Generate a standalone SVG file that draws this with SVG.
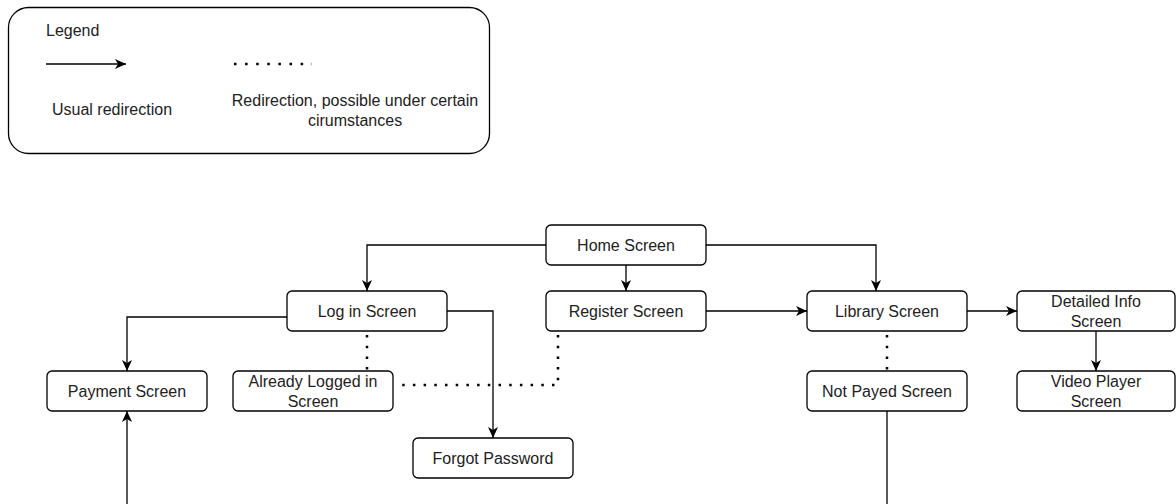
<svg xmlns="http://www.w3.org/2000/svg" width="1176" height="504" viewBox="0 0 1176 504">
<style>
  .node rect { fill: #ffffff; stroke: #000000; stroke-width: 1.3; }
  text { font-family: "Liberation Sans", Arial, sans-serif; font-size: 16px; fill: #222222; text-anchor: middle; }
  .solid { fill: none; stroke: #000000; stroke-width: 1.3; }
  .dot { fill: none; stroke: #000000; stroke-width: 2.5; stroke-dasharray: 2.5 8.2; }
</style>
<defs>
  <marker id="arr" viewBox="0 0 11 10" refX="11" refY="5" markerWidth="11" markerHeight="10" markerUnits="userSpaceOnUse" orient="auto">
    <path d="M0,0 L11,5 L0,10 L3,5 Z" fill="#000000"/>
  </marker>
</defs>
<rect width="1176" height="504" fill="#ffffff"/>

<g id="legend">
  <rect x="8.5" y="7.5" width="481" height="146" rx="20" ry="20" fill="#ffffff" stroke="#000000" stroke-width="1.3"/>
  <text x="46" y="36" style="text-anchor:start">Legend</text>
  <line class="solid" x1="46" y1="64" x2="126" y2="64" marker-end="url(#arr)"/>
  <line class="dot" x1="234" y1="64" x2="312" y2="64" style="stroke-dasharray:2.5 8.6"/>
  <text x="112" y="115">Usual redirection</text>
  <text x="355" y="106">Redirection, possible under certain</text>
  <text x="355" y="126">cirumstances</text>
</g>

<g id="connectors">
  <polyline class="solid" points="546,245 367,245 367,291" marker-end="url(#arr)"/>
  <line class="solid" x1="626" y1="265" x2="626" y2="291" marker-end="url(#arr)"/>
  <polyline class="solid" points="706,245 876,245 876,291" marker-end="url(#arr)"/>
  <polyline class="solid" points="287,317 127,317 127,371" marker-end="url(#arr)"/>
  <polyline class="solid" points="447,311 493,311 493,438" marker-end="url(#arr)"/>
  <line class="solid" x1="706" y1="311" x2="807" y2="311" marker-end="url(#arr)"/>
  <line class="solid" x1="967" y1="311" x2="1017" y2="311" marker-end="url(#arr)"/>
  <line class="solid" x1="1096" y1="331" x2="1096" y2="371" marker-end="url(#arr)"/>
  <line class="solid" x1="887" y1="411" x2="887" y2="504"/>
  <line class="solid" x1="127" y1="504" x2="127" y2="411" marker-end="url(#arr)"/>
  <line class="dot" x1="367" y1="335" x2="367" y2="371"/>
  <polyline class="dot" points="558,335 558,385 396,385"/>
  <line class="dot" x1="887" y1="335" x2="887" y2="371"/>
</g>

<g id="home" class="node"><rect x="546" y="225" width="160" height="40" rx="5"/><text x="626" y="251">Home Screen</text></g>
<g id="login" class="node"><rect x="287" y="291" width="160" height="40" rx="5"/><text x="367" y="317">Log in Screen</text></g>
<g id="register" class="node"><rect x="546" y="291" width="160" height="40" rx="5"/><text x="626" y="317">Register Screen</text></g>
<g id="library" class="node"><rect x="807" y="291" width="160" height="40" rx="5"/><text x="887" y="317">Library Screen</text></g>
<g id="detailed" class="node"><rect x="1017" y="291" width="158" height="40" rx="5"/><text x="1096" y="306.5">Detailed Info</text><text x="1096" y="326.5">Screen</text></g>
<g id="payment" class="node"><rect x="47" y="371" width="160" height="40" rx="5"/><text x="127" y="397">Payment Screen</text></g>
<g id="already" class="node"><rect x="233" y="371" width="160" height="40" rx="5"/><text x="313" y="386.5">Already Logged in</text><text x="313" y="406.5">Screen</text></g>
<g id="notpayed" class="node"><rect x="807" y="371" width="160" height="40" rx="5"/><text x="887" y="397">Not Payed Screen</text></g>
<g id="video" class="node"><rect x="1017" y="371" width="158" height="40" rx="5"/><text x="1096" y="386.5">Video Player</text><text x="1096" y="406.5">Screen</text></g>
<g id="forgot" class="node"><rect x="413" y="438" width="160" height="40" rx="5"/><text x="493" y="464">Forgot Password</text></g>
</svg>
